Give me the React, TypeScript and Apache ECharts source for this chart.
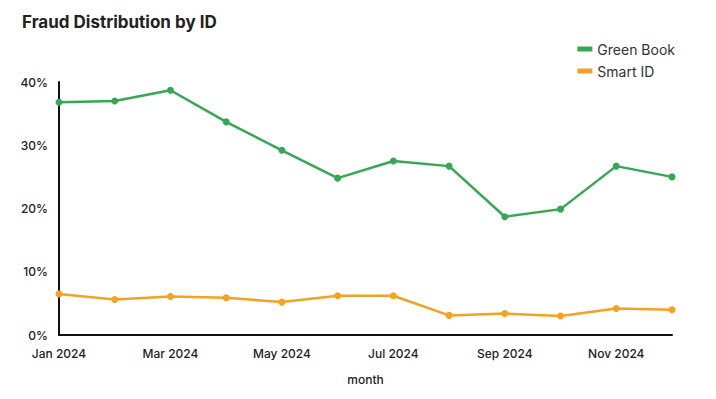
import React, { useEffect, useRef } from "react";
import * as echarts from "echarts";

const months = [
  "Jan 2024", "Feb 2024", "Mar 2024", "Apr 2024", "May 2024", "Jun 2024",
  "Jul 2024", "Aug 2024", "Sep 2024", "Oct 2024", "Nov 2024", "Dec 2024",
];
const greenBook = [36.8, 37.0, 38.7, 33.7, 29.2, 24.8, 27.5, 26.7, 18.7, 19.9, 26.7, 25.0];
const smartId = [6.5, 5.6, 6.1, 5.9, 5.2, 6.2, 6.2, 3.1, 3.4, 3.0, 4.2, 4.0];
const yTicks = { min: 0, max: 40, interval: 10 };

const FONT = "Inter, 'Noto Sans', sans-serif";

export default function App() {
  const ref = useRef<HTMLDivElement>(null);
  useEffect(() => {
    if (!ref.current) return;
    const chart = echarts.init(ref.current, undefined, { renderer: "svg" });
    chart.setOption({
      animation: false,
      backgroundColor: "#ffffff",
      textStyle: { fontFamily: FONT },
      title: {
        text: "Fraud Distribution by ID",
        left: 17,
        top: 8,
        textStyle: { fontSize: 17, fontWeight: "bold", color: "#222", fontFamily: FONT },
      },
      legend: {
        orient: "vertical",
        right: 36,
        top: 37,
        itemWidth: 15,
        itemHeight: 5,
        itemGap: 8,
        icon: "rect",
        textStyle: { fontSize: 14, color: "#333", fontFamily: FONT },
        data: ["Green Book", "Smart ID"],
      },
      grid: { left: 59, right: 44, top: 82, bottom: 64, containLabel: false },
      xAxis: {
        type: "category",
        data: months,
        boundaryGap: false,
        name: "month",
        nameLocation: "middle",
        nameGap: 38,
        nameTextStyle: { fontSize: 12, color: "#222", fontWeight: 500, fontFamily: FONT },
        axisLine: { lineStyle: { color: "#111", width: 2 } },
        axisTick: { show: false },
        axisLabel: { interval: 1, margin: 12, fontSize: 12, color: "#222", fontWeight: 500, fontFamily: FONT },
        splitLine: { show: false },
      },
      yAxis: {
        type: "value",
        min: yTicks.min,
        max: yTicks.max,
        interval: yTicks.interval,
        axisLine: { show: true, lineStyle: { color: "#111", width: 2 } },
        axisTick: { show: false },
        splitLine: { show: false },
        axisLabel: { formatter: "{value}%", margin: 11, fontSize: 12, color: "#222", fontWeight: 500, fontFamily: FONT },
      },
      series: [
        {
          name: "Green Book",
          type: "line",
          data: greenBook,
          symbol: "circle",
          symbolSize: 7,
          itemStyle: { color: "#34a853" },
          lineStyle: { color: "#34a853", width: 2.5 },
        },
        {
          name: "Smart ID",
          type: "line",
          data: smartId,
          symbol: "circle",
          symbolSize: 7,
          itemStyle: { color: "#f4a124" },
          lineStyle: { color: "#f4a124", width: 2.5 },
        },
      ],
    });
    return () => chart.dispose();
  }, []);
  return (
    <div
      ref={ref}
      style={{ position: "fixed", left: 0, top: 0, width: 716, height: 399 }}
    />
  );
}
